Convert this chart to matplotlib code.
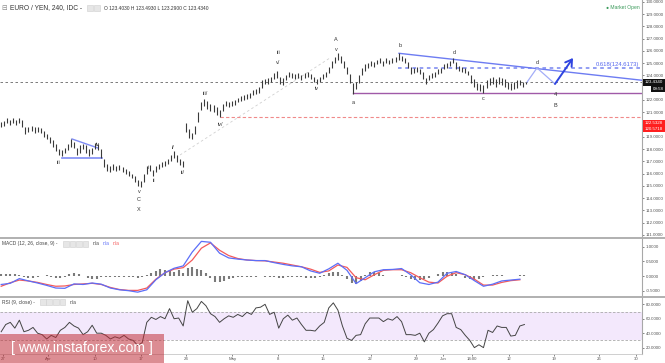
import matplotlib
matplotlib.use('Agg')
import matplotlib.pyplot as plt
import numpy as np
from matplotlib.patches import Rectangle
from matplotlib.lines import Line2D

plt.rcParams['font.family'] = ['Liberation Sans', 'DejaVu Sans']

# ---------------- data (4h bars, x in trading days from Mar 27) ----------------
highs = [120.2,120.3,120.5,120.4,120.5,120.4,120.5,120.4,119.8,119.8,
         119.9,119.8,119.8,119.7,119.5,119.2,119.0,118.7,118.4,118.0,
         117.9,118.1,118.4,118.8,118.6,118.1,118.3,118.4,118.3,118.0,
         118.1,118.5,118.4,118.0,117.2,116.8,116.6,116.8,116.6,116.7,
         116.5,116.4,116.2,116.0,115.8,115.5,115.4,116.0,116.6,116.7,
         116.3,116.6,116.8,116.9,117.0,117.2,117.5,117.8,117.5,117.2,
         117.0,120.1,119.6,119.3,119.9,121.0,121.8,122.1,121.9,121.7,
         121.6,121.4,121.2,121.7,121.9,121.8,121.9,122.0,122.2,122.3,
         122.4,122.5,122.6,122.8,122.9,123.1,123.6,123.7,123.8,123.9,
         124.2,124.4,123.9,123.8,124.0,124.3,124.2,124.1,124.2,124.0,
         124.2,124.3,124.1,123.9,123.7,123.9,124.1,124.3,124.7,125.2,
         125.5,125.8,125.6,125.2,124.7,124.1,123.4,123.5,124.0,124.6,
         124.9,125.0,125.2,125.1,125.3,125.4,125.2,125.4,125.3,125.4,
         125.5,125.8,125.6,125.4,125.1,124.7,124.6,124.7,124.5,124.3,
         123.8,124.0,124.2,124.3,124.5,124.6,124.9,125.0,125.2,125.4,
         125.1,124.8,124.7,124.6,124.4,124.0,123.7,123.4,123.3,123.2,
         123.6,123.8,123.9,123.7,123.9,123.8,123.7,123.5,123.4,123.5,
         123.6,123.6,123.5,123.5]
lows = [119.8,119.9,120.1,120.0,120.1,120.0,120.1,119.8,119.2,119.4,
        119.5,119.3,119.4,119.3,119.0,118.8,118.5,118.2,117.8,117.5,
        117.4,117.7,117.9,118.2,118.1,117.5,117.7,118.0,117.7,117.4,
        117.6,118.0,117.9,117.3,116.5,116.2,116.1,116.3,116.2,116.3,
        116.1,116.0,115.8,115.6,115.3,115.0,114.9,115.3,116.0,116.2,
        115.8,116.1,116.4,116.5,116.6,116.8,117.0,117.3,116.9,116.7,
        116.5,119.4,118.9,118.8,119.2,120.2,121.2,121.5,121.3,121.1,
        121.0,120.8,120.6,121.1,121.5,121.4,121.5,121.6,121.8,121.9,
        122.0,122.1,122.2,122.4,122.5,122.6,123.0,123.3,123.3,123.5,
        123.7,123.8,123.3,123.2,123.6,123.9,123.8,123.7,123.8,123.6,
        123.8,123.9,123.7,123.5,123.3,123.5,123.7,123.9,124.2,124.6,
        125.0,125.3,125.0,124.6,124.1,123.4,122.5,122.9,123.4,124.0,
        124.4,124.6,124.8,124.7,124.9,125.0,124.8,125.0,124.9,125.0,
        125.1,125.3,125.2,125.0,124.6,124.1,124.2,124.3,124.1,123.7,
        123.3,123.6,123.8,123.9,124.1,124.2,124.5,124.6,124.8,125.0,
        124.5,124.4,124.3,124.2,124.0,123.4,123.1,122.8,122.7,122.6,
        123.0,123.2,123.3,123.1,123.3,123.2,123.1,122.9,122.8,122.9,
        123.0,123.2,123.1,123.3]

macd_line = [-0.28,-0.24,-0.08,-0.16,-0.23,-0.31,-0.40,-0.41,-0.26,-0.28,
             -0.23,-0.27,-0.40,-0.46,-0.49,-0.54,-0.46,-0.12,0.12,0.27,
             0.35,0.82,1.18,1.15,0.78,0.62,0.58,0.55,0.53,0.53,
             0.46,0.40,0.35,0.32,0.18,0.10,0.25,0.44,0.20,-0.25,
             -0.05,0.15,0.22,0.23,0.26,0.05,-0.22,-0.28,-0.20,0.10,
             0.16,0.05,-0.15,-0.34,-0.27,-0.16,-0.13,-0.10]
signal_line = [-0.34,-0.22,-0.13,-0.16,-0.21,-0.28,-0.34,-0.33,-0.28,-0.26,
               -0.24,-0.28,-0.38,-0.45,-0.48,-0.48,-0.40,-0.10,0.12,0.24,
               0.29,0.55,0.95,1.13,0.88,0.70,0.60,0.55,0.53,0.52,
               0.48,0.44,0.38,0.32,0.24,0.13,0.18,0.38,0.30,-0.05,
               -0.12,0.05,0.20,0.22,0.22,0.12,-0.05,-0.20,-0.23,0.00,
               0.12,0.05,-0.10,-0.30,-0.30,-0.21,-0.15,-0.12]
macd_hist = [0.08,0.08,0.09,0.07,0.05,-0.03,-0.05,-0.06,-0.04,0.02,
             0.03,-0.03,-0.05,-0.06,-0.03,0.08,0.12,0.06,0.02,-0.05,
             -0.09,-0.08,-0.04,-0.03,-0.02,-0.03,-0.02,-0.03,-0.02,-0.04,
             -0.05,-0.03,0.05,0.12,0.18,0.24,0.22,0.18,0.15,0.20,
             0.12,0.28,0.30,0.26,0.22,0.12,-0.05,-0.18,-0.21,-0.17,
             -0.10,-0.05,-0.03,-0.02,-0.02,-0.03,-0.01,0.01,-0.02,-0.03,
             -0.04,-0.06,-0.05,-0.04,-0.03,-0.02,-0.03,-0.05,-0.06,-0.05,
             -0.03,0.03,0.10,0.15,0.13,0.05,-0.10,-0.22,-0.25,-0.15,
             0.05,0.13,0.14,0.10,0.05,0.02,0.01,0.02,0.03,-0.03,
             -0.10,-0.14,-0.13,-0.10,-0.06,0.02,0.08,0.13,0.14,0.10,
             0.06,0.02,-0.05,-0.10,-0.12,-0.08,-0.04,0.02,0.04,0.04,
             0.03,0.02,0.02,0.01,0.03,0.05]
rsi = [42,52,55,47,58,42,44,48,40,38,
       32,37,34,44,48,55,50,47,38,42,
       51,40,40,37,32,35,33,37,32,30,
       23,27,55,62,59,63,60,74,60,61,
       50,85,69,74,84,78,67,63,55,60,
       64,62,66,63,69,66,75,76,80,66,
       69,47,60,65,58,61,52,44,44,43,
       50,55,75,82,72,50,33,30,37,38,
       53,61,61,61,56,60,58,63,56,38,
       38,37,40,28,40,45,54,64,67,67,
       48,45,37,30,20,24,20,44,41,50,
       48,48,36,37,50,52]

date_labels = ['27', 'Apr', '10', '17', '24', 'May', '8', '15', '22', '29', 'Jun', '14:00', '12', '19', '26', '30']
date_pos = [0, 4.95, 10.1, 15.2, 20.1, 25.2, 30.2, 35.2, 40.4, 45.4, 48.35, 51.5, 55.6, 60.5, 65.5, 69.6]

price_ticks = [111, 112, 113, 114, 115, 116, 117, 118, 119, 121, 122, 124, 125, 126, 127, 128, 129, 130]

wave_labels = ['iii', 'iv', 'v', 'C', 'X', 'i', 'ii', 'i/', 'ii/', 'iii/', 'iv/', 'iii', 'v/', 'iv',
               'A', 'v', 'a', 'b', 'd', 'c', 'd', '4', 'B']
wave_days = [6.15, 10.44, 14.95, 14.95, 14.95, 15.93, 16.59, 18.68, 19.78, 22.2, 23.85, 30.22, 30.22, 34.5,
             36.6, 36.6, 38.46, 43.63, 49.56, 52.75, 58.68, 60.66, 60.66]
wave_prices = [116.94, 118.33, 114.57, 113.84, 113.10, 116.53, 115.39, 118.16, 116.12, 122.57, 119.96, 125.84, 125.10, 122.9,
               126.9, 126.08, 121.76, 126.41, 125.84, 122.16, 125.02, 122.41, 121.59]

last_price = 123.434
level_a = 122.5328
level_iv = 120.5718
fib_level = 124.6173

# ---------------- figure ----------------
W, H = 665, 363
fig = plt.figure(figsize=(W / 100, H / 100), dpi=100)
fig.patch.set_facecolor('white')

def fx(x):
    return x / W

def fy(y):
    return 1 - y / H

ax_p = fig.add_axes([0, fy(237), fx(642), 237 / H])
ax_m = fig.add_axes([0, fy(296), fx(642), (296 - 238) / H], sharex=ax_p)
ax_r = fig.add_axes([0, fy(354), fx(642), (354 - 297) / H], sharex=ax_p)

for ax in (ax_p, ax_m, ax_r):
    for s in ('left', 'top', 'bottom'):
        ax.spines[s].set_visible(False)
    ax.spines['right'].set_color('#a8a8a8')
    ax.spines['right'].set_linewidth(0.8)
    ax.yaxis.tick_right()
    ax.tick_params(axis='y', labelsize=3.2, colors='#555', length=1.5, width=0.5, pad=1)
    ax.tick_params(axis='x', bottom=False, labelbottom=False)
ax_r.spines['bottom'].set_visible(True)
ax_r.spines['bottom'].set_color('#c8c8c8')
ax_r.spines['bottom'].set_linewidth(0.6)

ax_p.set_xlim(-0.33, 70.22)

# ---- price panel ----
bar_t = -0.2 + np.arange(len(highs)) / 3.0
ax_p.vlines(bar_t, lows, highs, color='#3a3a3a', lw=0.8, zorder=3)
ax_p.set_ylim(110.82, 130.16)
ax_p.set_yticks(price_ticks)
ax_p.set_yticklabels([f'{v:.4f}' for v in price_ticks])

ax_p.axhline(last_price, color='#666', lw=0.6, ls=(0, (3, 3)), zorder=2)
ax_p.plot([38.46, 70.22], [level_a, level_a], color='#a05aa8', lw=1.0, zorder=2)
ax_p.plot([23.85, 70.22], [level_iv, level_iv], color='#f08a8a', lw=0.8, ls=(0, (3, 2)), zorder=2)
ax_p.plot([43.4, 70.22], [fib_level, fib_level], color='#8a96f2', lw=1.3, ls=(0, (2, 2)), zorder=2)
ax_p.plot([43.52, 70.22], [125.81, 123.61], color='#6d7cf2', lw=1.0, zorder=2)
ax_p.plot([19.45, 35.93], [117.51, 125.43], color='#d0d0d0', lw=0.6, ls=(0, (3, 3)), zorder=1)
ax_p.plot([7.58, 10.44], [118.82, 118.08], color='#7f8cf5', lw=1.0, zorder=2)
ax_p.plot([6.48, 10.88], [117.27, 117.27], color='#7f8cf5', lw=1.2, zorder=2)
ax_p.plot([57.58, 58.68, 60.66], [123.45, fib_level, 123.31], color='#a3adf8', lw=0.9, zorder=2)
ax_p.annotate('', xy=(62.64, 125.43), xytext=(60.66, 123.31),
              arrowprops=dict(arrowstyle='->,head_length=0.45,head_width=0.28', color='#2f45e0', lw=1.4,
                              shrinkA=0, shrinkB=0), zorder=4)
ax_p.text(69.9, fib_level + 0.08, '0.618(124.6173)', color='#5566ee', fontsize=4.2, ha='right', va='bottom')

for t, d, p in zip(wave_labels, wave_days, wave_prices):
    ax_p.text(d, p, t, fontsize=4, color='#333', ha='center', va='center', zorder=5)

# ---- MACD panel ----
line_t = -0.2 + np.arange(len(macd_line))
half_t = -0.2 + np.arange(len(macd_hist)) / 2.0
ax_m.vlines(half_t, 0, macd_hist, color='#7a7a7a', lw=1.5, zorder=2)
ax_m.plot(line_t, signal_line, color='#f45a5a', lw=0.9, zorder=3)
ax_m.plot(line_t, macd_line, color='#5c6ef8', lw=0.9, zorder=3)
ax_m.set_ylim(-0.67, 1.295)
ax_m.set_yticks([-0.5, 0, 0.5, 1.0])
ax_m.set_yticklabels(['-0.5000', '0.0000', '0.5000', '1.0000'])

# ---- RSI panel ----
rsi_t = -0.2 + np.arange(len(rsi)) / 2.0
ax_r.axhspan(30, 70, color='#f3e8fc', zorder=0, lw=0)
ax_r.axhline(70, color='#aaa', lw=0.6, ls=(0, (3, 2)))
ax_r.axhline(30, color='#aaa', lw=0.6, ls=(0, (3, 2)))
ax_r.plot(rsi_t, rsi, color='#444', lw=0.7, zorder=3)
ax_r.set_ylim(11.2, 90.1)
ax_r.set_yticks([20, 40, 60, 80])
ax_r.set_yticklabels(['20.0000', '40.0000', '60.0000', '80.0000'])
ax_r.set_xticks(date_pos)
ax_r.set_xticklabels(date_labels)
ax_r.tick_params(axis='x', bottom=True, labelbottom=True, labelsize=3.1, colors='#555',
                 length=1.5, width=0.5, pad=0.6)

# ---- separators ----
for yy in (237.7, 296.5):
    fig.add_artist(Line2D([0, 1], [fy(yy), fy(yy)], color='#b0b0b0', lw=1.4))

# ---- header texts ----
fig.text(fx(1.5), fy(8), '\u229f', fontsize=4.8, color='#888', va='center', ha='left', family='DejaVu Sans')
fig.text(fx(10), fy(8), 'EURO / YEN, 240, IDC -', fontsize=4.8, color='#333', va='center', ha='left')

def box(x0, y0, x1, y1, fc, ec=None, alpha=1.0, z=5):
    fig.add_artist(Rectangle((fx(x0), fy(y1)), fx(x1) - fx(x0), fy(y0) - fy(y1),
                             transform=fig.transFigure, facecolor=fc,
                             edgecolor=ec if ec else 'none', lw=0.4, alpha=alpha, zorder=z))

for xb in (87, 94):
    box(xb, 5, xb + 5.5, 11, '#e6e6e6', '#cfcfcf')
fig.text(fx(104), fy(8), 'O 123.4030 H 123.4930 L 123.2900 C 123.4340', fontsize=3.5, color='#333',
         va='center', ha='left')
fig.text(fx(640), fy(7.5), '\u25cf Market Open', fontsize=3.6, color='#3a9a5a', va='center', ha='right')

fig.text(fx(2), fy(243.7), 'MACD (12, 26, close, 9) -', fontsize=3.5, color='#444', va='center', ha='left')
for xb in (63, 69.5, 76, 82.5):
    box(xb, 240.7, xb + 5.5, 246.7, '#e6e6e6', '#cfcfcf')
fig.text(fx(93), fy(243.7), 'n/a', fontsize=3.5, color='#444', va='center', ha='left')
fig.text(fx(103), fy(243.7), 'n/a', fontsize=3.5, color='#5c6ef8', va='center', ha='left')
fig.text(fx(113), fy(243.7), 'n/a', fontsize=3.5, color='#f45a5a', va='center', ha='left')

fig.text(fx(2), fy(302.3), 'RSI (9, close) -', fontsize=3.5, color='#444', va='center', ha='left')
for xb in (40, 46.5, 53, 59.5):
    box(xb, 299.3, xb + 5.5, 305.3, '#e6e6e6', '#cfcfcf')
fig.text(fx(70), fy(302.3), 'n/a', fontsize=3.5, color='#444', va='center', ha='left')

# ---- right axis price boxes ----
box(642.5, 78.8, 665, 85.6, '#111111', z=6)
fig.text(fx(654), fy(82.2), '123.4340', fontsize=3.2, color='white', va='center', ha='center', zorder=7)
box(651, 86.3, 665, 92.3, '#111111', z=6)
fig.text(fx(658), fy(89.3), '09:58', fontsize=3.2, color='white', va='center', ha='center', zorder=7)
box(642.5, 119.6, 665, 125.8, '#ff1f1f', z=6)
fig.text(fx(654), fy(122.7), '122.5328', fontsize=3.2, color='white', va='center', ha='center', zorder=7)
box(642.5, 125.8, 665, 131.8, '#ff1f1f', z=6)
fig.text(fx(654), fy(128.6), '120.5718', fontsize=3.2, color='white', va='center', ha='center', zorder=7)

# ---- watermark ----
box(0, 334, 164, 363, '#c0303a', alpha=0.55, z=8)
fig.text(fx(82), fy(348), '[ www.instaforex.com ]', fontsize=10.2, color='white', va='center', ha='center',
         zorder=9)

fig.savefig('out.png', dpi=100, facecolor='white')
